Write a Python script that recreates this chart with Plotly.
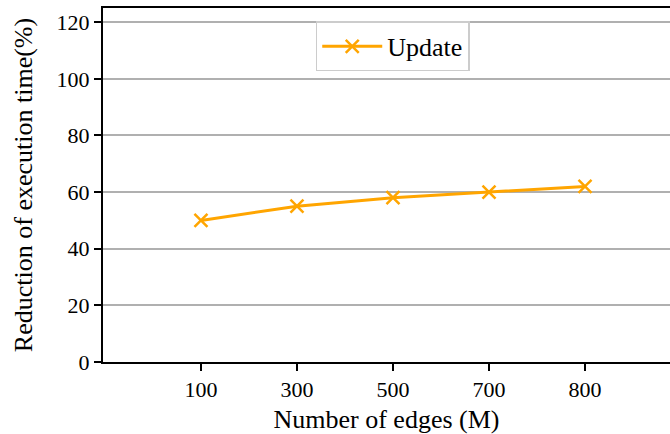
import plotly.graph_objects as go

edges = ["100", "300", "500", "700", "800"]
reduction = [50, 55, 58, 60, 62]
y_ticks = [0, 20, 40, 60, 80, 100, 120]

idx = list(range(len(edges)))
font = "'Times New Roman', Times, 'Liberation Serif', Tinos, 'Nimbus Roman', 'DejaVu Serif'"

fig = go.Figure()
fig.add_trace(go.Scatter(
    x=idx, y=reduction, mode="lines+markers", name="Update",
    line=dict(color="#FFA500", width=3),
    marker=dict(symbol="x-thin-open", size=13, color="#FFA500",
                line=dict(color="#FFA500", width=2.5)),
))

fig.update_layout(
    width=670, height=434,
    margin=dict(l=103, r=0, t=8, b=72),
    paper_bgcolor="white", plot_bgcolor="white",
    font=dict(family=font, size=22, color="black"),
    showlegend=True,
    legend=dict(x=0.511, y=0.962, xanchor="center", yanchor="top",
                bordercolor="#cccccc", borderwidth=1.5, itemwidth=60,
                font=dict(size=26, family=font), bgcolor="white"),
    xaxis=dict(
        range=[-1.02, 4.885], tickmode="array", tickvals=idx, ticktext=edges,
        showline=True, linecolor="black", linewidth=2, mirror=True,
        ticks="outside", ticklen=7, tickwidth=2, tickcolor="black",
        showgrid=False, zeroline=False,
        title=dict(text="Number of edges (M)", font=dict(size=26, family=font), standoff=9),
    ),
    yaxis=dict(
        range=[0, 125], tickmode="array", tickvals=y_ticks,
        showline=True, linecolor="black", linewidth=2,
        ticks="outside", ticklen=7, tickwidth=2, tickcolor="black",
        showgrid=True, gridcolor="#b0b0b0", gridwidth=1.5, zeroline=False,
        title=dict(text="Reduction of execution time(%)", font=dict(size=26, family=font), standoff=16),
    ),
)

fig.write_html("out.html")
